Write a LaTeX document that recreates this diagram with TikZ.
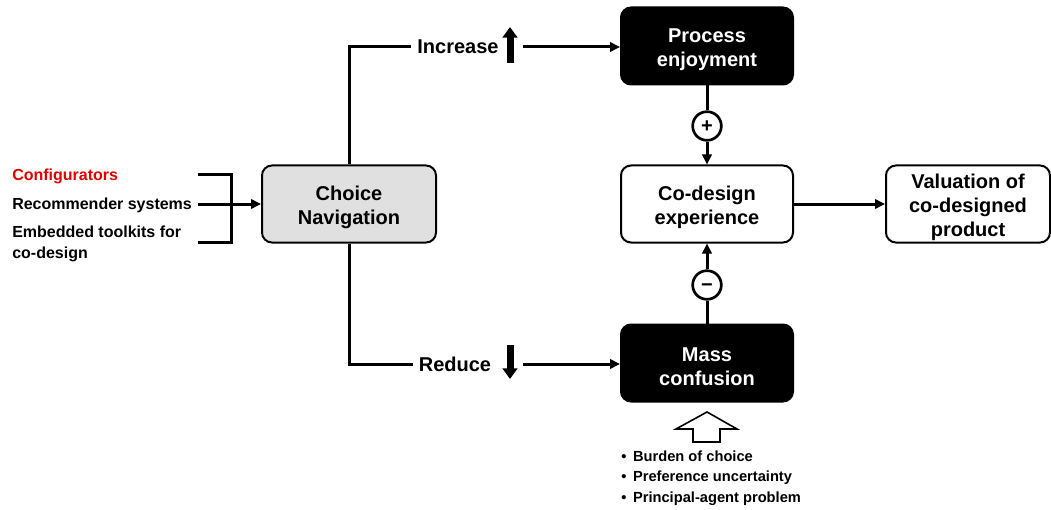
\documentclass[tikz,border=0pt]{standalone}
\usepackage{fontspec}
\setmainfont{Liberation Sans}
\usetikzlibrary{arrows.meta}
\definecolor{navgray}{RGB}{224,224,224}
\definecolor{cfgred}{RGB}{224,0,0}
% raises the first line of box text so the text block sits a little lower
\newcommand{\boxstrut}{\rule{0pt}{15.5pt}}
\begin{document}
\begin{tikzpicture}[x=0.75pt,y=-0.75pt,
  box/.style={draw, rounded corners=7.5pt, line width=1.5pt, minimum width=129pt,
    minimum height=57.75pt, inner sep=0pt, align=center,
    font=\fontsize{15}{18}\selectfont\bfseries},
  darkbox/.style={box, fill=black, text=white},
  conn/.style={line width=2.25pt, -{Triangle[length=7.5pt,width=7pt]}},
  plain/.style={line width=2.25pt},
  lbl/.style={font=\fontsize{15}{18}\selectfont\bfseries, inner sep=0pt},
  side/.style={font=\fontsize{12}{15.5}\selectfont\bfseries, anchor=west,
    inner sep=0pt, align=left},
  sign/.style={circle, draw, line width=2pt, minimum size=21.5pt, inner sep=0pt,
    fill=white, text height=10pt, text depth=0pt,
    font=\fontsize{15}{15}\selectfont\bfseries},
  bigarrow/.style={line width=5.25pt, -{Triangle[length=8pt,width=11pt]}},
  bullet/.style={anchor=base west, inner sep=0pt, font=\fontsize{11}{13}\selectfont\bfseries}
]
\useasboundingbox (0,0) rectangle (1051,510);

% main boxes
\node[box, fill=navgray, minimum width=130.5pt] (nav) at (349,204) {\boxstrut Choice\\Navigation};
\node[darkbox] (proc) at (707,46) {\boxstrut Process\\enjoyment};
\node[box] (exp) at (707,204) {\boxstrut Co-design\\experience};
\node[box, minimum width=123pt] (val) at (968,204) {\boxstrut Valuation of\\co-designed\\product};
\node[darkbox] (mass) at (707,363) {\boxstrut Mass\\confusion};

% effect signs
\node[sign] (plus) at (707,126) {+};
\node[sign] (minus) at (707,285) {−};

\draw[plain] (proc.south) -- (plus.north);
\draw[conn] (plus.south) -- (exp.north);
\draw[plain] (mass.north) -- (minus.south);
\draw[conn] (minus.north) -- (exp.south);
\draw[conn] (exp.east) -- (val.west);

% increase branch
\node[lbl] (inc) at (458,47) {Increase};
\draw[plain] (nav.north) |- ([xshift=-4.5pt]inc.west);
\coordinate (incup) at (510,63);
\draw[bigarrow] (incup) -- ++(0,-36);
\coordinate (incout) at (523,47);
\draw[conn] (incout) -- (incout -| proc.west);

% reduce branch
\node[lbl] (red) at (455,364) {Reduce};
\draw[plain] (nav.south) |- ([xshift=-4.5pt]red.west);
\coordinate (reddown) at (510,345);
\draw[bigarrow] (reddown) -- ++(0,34);
\coordinate (redout) at (523,364);
\draw[conn] (redout) -- (redout -| mass.west);

% navigation tools
\node[side, text=cfgred] (cfg) at (12,176) {Configurators};
\node[side] (rec) at (12,205) {Recommender systems};
\node[side] (emb) at (12,244) {Embedded toolkits for\\co-design};
\coordinate (brt) at (198,175);
\coordinate (brb) at (198,242);
\draw[plain] (brt) -| (231,242) -- (brb);
\coordinate (recend) at (198,204);
\draw[conn] (recend) -- (nav.west);

% sources of confusion
\draw[line width=1.2pt, line join=miter] (707,412) -- (737,429) -- (720,429) -- (720,442)
  -- (693,442) -- (693,429) -- (676,429) -- cycle;
\node[bullet] (b1) at (621,461) {•\hspace{5pt}Burden of choice};
\node[bullet] (b2) at (621,481) {•\hspace{5pt}Preference uncertainty};
\node[bullet] (b3) at (621,502) {•\hspace{5pt}Principal-agent problem};
\end{tikzpicture}
\end{document}
